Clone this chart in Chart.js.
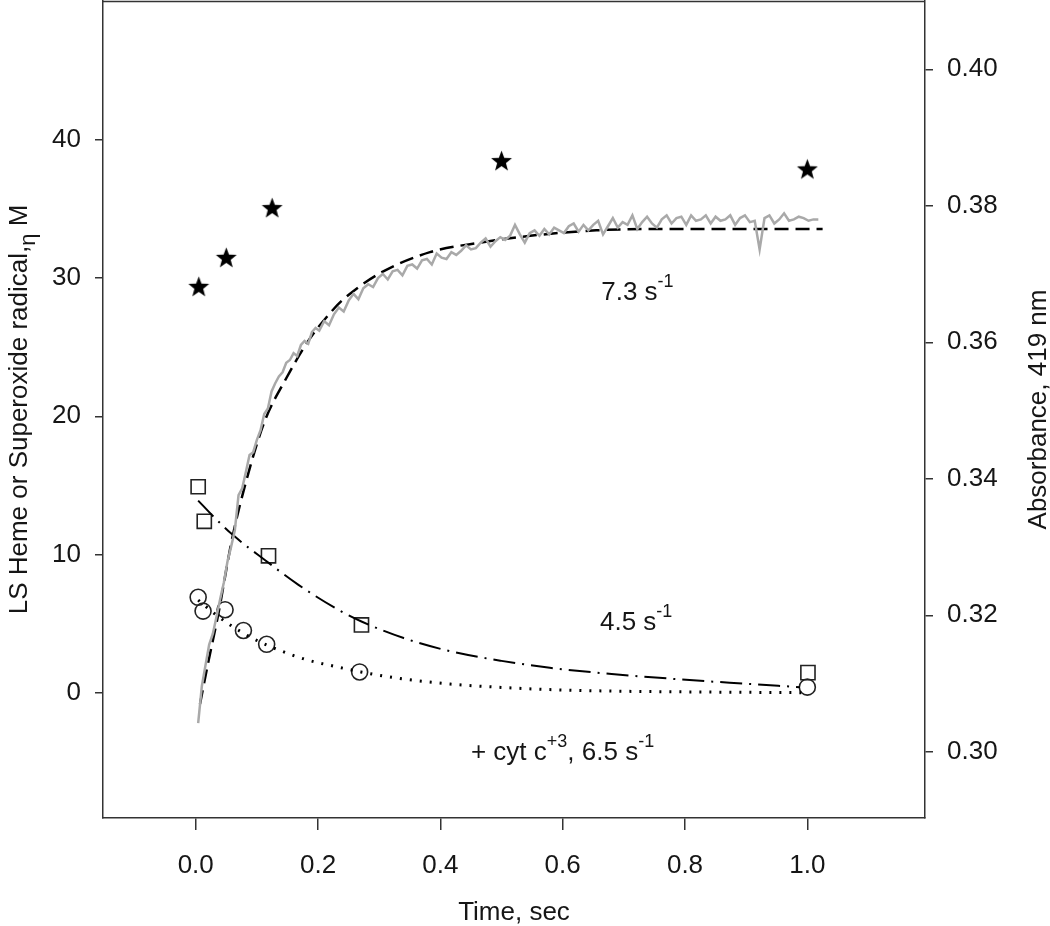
<!DOCTYPE html>
<html>
<head>
<meta charset="utf-8">
<script src="https://cdn.jsdelivr.net/npm/chart.js@4"></script>
<style>
  body { margin: 0; background: #fff; }
  #wrap { width: 1050px; height: 926px; }
</style>
</head>
<body>
<div id="wrap"><canvas id="kineticsChart" width="1050" height="926"></canvas></div>
<script>
// absorbance trace at 419 nm (gray, right axis)
const traceTime = [0.004, 0.010, 0.016, 0.022, 0.028, 0.034, 0.040, 0.046, 0.052, 0.058, 0.064, 0.070, 0.076, 0.082, 0.088, 0.094, 0.100, 0.106, 0.112, 0.118, 0.124, 0.130, 0.136, 0.142, 0.148, 0.154, 0.160, 0.166, 0.172, 0.178, 0.184, 0.190, 0.196, 0.202,
  0.210, 0.218, 0.226, 0.234, 0.242, 0.250, 0.258, 0.266, 0.274, 0.282, 0.290, 0.298, 0.306, 0.314, 0.322, 0.330, 0.338, 0.346, 0.354, 0.362, 0.370, 0.378, 0.386, 0.394, 0.402, 0.410, 0.418, 0.426, 0.434, 0.442, 0.450, 0.458, 0.466, 0.474, 0.482, 0.490, 0.498,
  0.506, 0.514, 0.522, 0.530, 0.538, 0.546, 0.554, 0.562, 0.570, 0.578, 0.586, 0.594, 0.602, 0.610, 0.618, 0.626, 0.634, 0.642, 0.650, 0.658, 0.666, 0.674, 0.682, 0.690, 0.698, 0.706, 0.714, 0.722, 0.730, 0.738, 0.746, 0.754, 0.762, 0.770, 0.778, 0.786, 0.794,
  0.802, 0.810, 0.818, 0.826, 0.834, 0.842, 0.850, 0.858, 0.866, 0.874, 0.882, 0.890, 0.898, 0.906, 0.914, 0.922, 0.930, 0.938, 0.946, 0.954, 0.962, 0.970, 0.978, 0.986, 0.994, 1.002, 1.010, 1.018];
const traceAbs = [0.3042, 0.3096, 0.3127, 0.3157, 0.3173, 0.3198, 0.3224, 0.3248, 0.3279, 0.3301, 0.3325, 0.3376, 0.3386, 0.3410, 0.3435, 0.3439, 0.3457, 0.3471, 0.3495, 0.3503, 0.3528, 0.3540, 0.3550, 0.3556, 0.3570, 0.3574, 0.3584, 0.3580, 0.3596, 0.3602, 0.3598, 0.3615, 0.3621, 0.3617,
  0.3631, 0.3625, 0.3641, 0.3651, 0.3645, 0.3661, 0.3671, 0.3663, 0.3679, 0.3685, 0.3681, 0.3694, 0.3700, 0.3692, 0.3704, 0.3706, 0.3698, 0.3712, 0.3714, 0.3708, 0.3720, 0.3722, 0.3714, 0.3730, 0.3724, 0.3722, 0.3732, 0.3728, 0.3734, 0.3742, 0.3736, 0.3738, 0.3746, 0.3752, 0.3740, 0.3748, 0.3754,
  0.3750, 0.3756, 0.3772, 0.3758, 0.3746, 0.3760, 0.3764, 0.3756, 0.3766, 0.3758, 0.3768, 0.3764, 0.3760, 0.3770, 0.3774, 0.3762, 0.3772, 0.3764, 0.3772, 0.3778, 0.3758, 0.3770, 0.3782, 0.3768, 0.3776, 0.3772, 0.3786, 0.3766, 0.3776, 0.3784, 0.3774, 0.3768, 0.3780, 0.3786, 0.3774, 0.3782, 0.3784,
  0.3772, 0.3786, 0.3778, 0.3780, 0.3786, 0.3774, 0.3784, 0.3778, 0.3780, 0.3786, 0.3772, 0.3782, 0.3786, 0.3776, 0.3778, 0.3736, 0.3782, 0.3786, 0.3774, 0.3780, 0.3789, 0.3778, 0.3780, 0.3784, 0.3782, 0.3778, 0.3780, 0.3780];

// 7.3 s-1 fit of the absorbance (dashed, right axis)
const fastFitTime = [0.007, 0.020, 0.037, 0.059, 0.086, 0.113, 0.146, 0.184, 0.219, 0.239, 0.301, 0.383, 0.465, 0.547, 0.655, 0.764, 0.900, 1.025];
const fastFitAbs = [0.3070, 0.3129, 0.3202, 0.3310, 0.3408, 0.3485, 0.3544, 0.3602, 0.3642, 0.3661, 0.3701, 0.3732, 0.3746, 0.3756, 0.3764, 0.3766, 0.3766, 0.3766];

// 4.5 s-1 fit of LS heme (dash-dot, left axis)
const hemeFitTime = [0.004, 0.030, 0.061, 0.113, 0.168, 0.233, 0.271, 0.340, 0.416, 0.500, 0.579, 0.680, 0.780, 0.880, 0.988];
const hemeFitVal = [13.9, 12.7, 11.4, 9.6, 7.8, 6.0, 5.15, 3.95, 3.0, 2.3, 1.8, 1.35, 1.0, 0.7, 0.4];

// + cyt c+3, 6.5 s-1 fit (dotted, left axis)
const cytFitTime = [0.004, 0.030, 0.053, 0.090, 0.135, 0.180, 0.233, 0.270, 0.330, 0.416, 0.500, 0.579, 0.700, 0.850, 0.990];
const cytFitVal = [6.7, 5.75, 5.0, 4.0, 3.1, 2.4, 1.85, 1.5, 1.05, 0.62, 0.38, 0.22, 0.1, 0.04, 0.0];

// measured points (left axis)
const starTime = [0.005, 0.050, 0.125, 0.500, 1.000];
const starVal = [29.4, 31.5, 35.1, 38.5, 37.9];
const squareTime = [0.004, 0.014, 0.119, 0.271, 1.001];
const squareVal = [14.9, 12.4, 9.9, 4.9, 1.45];
const circleTime = [0.004, 0.012, 0.048, 0.078, 0.116, 0.268, 1.000];
const circleVal = [6.9, 5.9, 6.0, 4.5, 3.5, 1.5, 0.4];

const xTicks = [0, 0.2, 0.4, 0.6, 0.8, 1.0];
const leftTicks = [0, 10, 20, 30, 40];
const rightTicks = [0.30, 0.32, 0.34, 0.36, 0.38, 0.40];

const pts = (xs, ys) => xs.map((x, i) => ({ x, y: ys[i] }));

const FONT = "'Liberation Sans', Arial, sans-serif";
const INK = "#161616";

// filled five-point star marker
function makeStar(size) {
  const c = document.createElement("canvas");
  c.width = size;
  c.height = size;
  const g = c.getContext("2d");
  const cx = size / 2, cy = size / 2 + 1, ro = size / 2 - 0.5, ri = ro * 0.42;
  g.beginPath();
  for (let k = 0; k < 10; k++) {
    const r = k % 2 === 0 ? ro : ri;
    const a = -Math.PI / 2 + k * Math.PI / 5;
    g.lineTo(cx + r * Math.cos(a), cy + r * Math.sin(a));
  }
  g.closePath();
  g.fillStyle = "#000";
  g.fill();
  return c;
}
const starImg = makeStar(23);

// frame top, axis titles and rate labels
const decorPlugin = {
  id: "decor",
  afterDraw(chart) {
    const { ctx, chartArea: a, scales } = chart;
    const xs = scales.x, yl = scales.y;
    ctx.save();
    ctx.strokeStyle = "#333";
    ctx.lineWidth = 1.5;
    ctx.beginPath();
    ctx.moveTo(a.left, a.top + 0.5);
    ctx.lineTo(a.right, a.top + 0.5);
    ctx.stroke();

    ctx.fillStyle = INK;
    ctx.textBaseline = "alphabetic";

    // x title
    ctx.font = "26px " + FONT;
    ctx.textAlign = "center";
    ctx.fillText("Time, sec", (a.left + a.right) / 2, 920);

    // left title, rotated
    ctx.save();
    ctx.translate(27, (a.top + a.bottom) / 2);
    ctx.rotate(-Math.PI / 2);
    ctx.textAlign = "left";
    const main = "LS Heme or Superoxide radical,";
    const wMain = ctx.measureText(main).width;
    ctx.font = "22px " + FONT;
    const wSub = ctx.measureText("\u03B7").width;
    ctx.font = "26px " + FONT;
    const wM = ctx.measureText(" M").width;
    const x0 = -(wMain + wSub + wM) / 2;
    ctx.fillText(main, x0, 0);
    ctx.font = "22px " + FONT;
    ctx.fillText("\u03B7", x0 + wMain, 8);
    ctx.font = "26px " + FONT;
    ctx.fillText(" M", x0 + wMain + wSub, 0);
    ctx.restore();

    // right title, rotated
    ctx.save();
    ctx.translate(1046, (a.top + a.bottom) / 2);
    ctx.rotate(-Math.PI / 2);
    ctx.textAlign = "center";
    ctx.font = "26px " + FONT;
    ctx.fillText("Absorbance, 419 nm", 0, 0);
    ctx.restore();

    // rate labels with superscripts
    const label = (parts, tx, ly) => {
      let px = xs.getPixelForValue(tx);
      const py = yl.getPixelForValue(ly);
      ctx.textAlign = "left";
      parts.forEach(([txt, sup]) => {
        ctx.font = (sup ? "18px " : "26px ") + FONT;
        ctx.fillText(txt, px, sup ? py - 13 : py);
        px += ctx.measureText(txt).width;
      });
    };
    label([["7.3 s", false], ["-1", true]], 0.663, 28.4);
    label([["4.5 s", false], ["-1", true]], 0.661, 4.55);
    label([["+ cyt c", false], ["+3", true], [", 6.5 s", false], ["-1", true]], 0.45, -4.9);
    ctx.restore();
  }
};

const axisFont = { family: FONT, size: 26 };

// drop the automatic label overhang padding so the plot box fills its slot
const noPad = s => {
  s.paddingLeft = 0;
  s.paddingRight = 0;
  s.paddingTop = 0;
  s.paddingBottom = 0;
};

new Chart(document.getElementById("kineticsChart"), {
  type: "scatter",
  data: {
    datasets: [
      {
        label: "Absorbance trace",
        data: pts(traceTime, traceAbs),
        yAxisID: "y2",
        showLine: true,
        borderColor: "#a9a9a9",
        borderWidth: 2.5,
        pointRadius: 0,
        tension: 0
      },
      {
        label: "7.3 s-1 fit",
        data: pts(fastFitTime, fastFitAbs),
        yAxisID: "y2",
        showLine: true,
        borderColor: "#000",
        borderWidth: 2.5,
        borderDash: [14, 7],
        pointRadius: 0,
        cubicInterpolationMode: "monotone"
      },
      {
        label: "4.5 s-1 fit",
        data: pts(hemeFitTime, hemeFitVal),
        yAxisID: "y",
        showLine: true,
        borderColor: "#000",
        borderWidth: 2,
        borderDash: [22, 7, 2, 7],
        pointRadius: 0,
        cubicInterpolationMode: "monotone"
      },
      {
        label: "cyt c fit",
        data: pts(cytFitTime, cytFitVal),
        yAxisID: "y",
        showLine: true,
        borderColor: "#000",
        borderWidth: 3,
        borderDash: [2, 8],
        pointRadius: 0,
        cubicInterpolationMode: "monotone"
      },
      {
        label: "Superoxide",
        data: pts(starTime, starVal),
        yAxisID: "y",
        pointStyle: starImg,
        pointRadius: 12
      },
      {
        label: "LS heme",
        data: pts(squareTime, squareVal),
        yAxisID: "y",
        pointStyle: "rect",
        pointRadius: 10,
        borderColor: "#222",
        borderWidth: 1.6,
        backgroundColor: "rgba(0,0,0,0)"
      },
      {
        label: "LS heme + cyt c",
        data: pts(circleTime, circleVal),
        yAxisID: "y",
        pointStyle: "circle",
        pointRadius: 8,
        borderColor: "#222",
        borderWidth: 1.6,
        backgroundColor: "rgba(0,0,0,0)"
      }
    ]
  },
  options: {
    responsive: false,
    animation: false,
    layout: { autoPadding: false, padding: { top: 1, left: 0, right: 0, bottom: 0 } },
    plugins: {
      legend: { display: false },
      tooltip: { enabled: false }
    },
    scales: {
      x: {
        type: "linear",
        min: -0.1516,
        max: 1.1924,
        afterFit: s => { s.height = 108; noPad(s); },
        afterBuildTicks: s => { s.ticks = xTicks.map(v => ({ value: v })); },
        border: { display: true, color: "#333", width: 1.5 },
        grid: { drawOnChartArea: false, drawTicks: true, tickLength: 12, tickColor: "#333", lineWidth: 1.5 },
        ticks: { color: INK, font: axisFont, padding: 20, maxRotation: 0, callback: v => v.toFixed(1) }
      },
      y: {
        position: "left",
        min: -9.07,
        max: 50.05,
        afterFit: s => { s.width = 103; noPad(s); },
        afterBuildTicks: s => { s.ticks = leftTicks.map(v => ({ value: v })); },
        border: { display: true, color: "#333", width: 1.5 },
        grid: { drawOnChartArea: false, drawTicks: true, tickLength: 8, tickColor: "#333", lineWidth: 1.5 },
        ticks: { color: INK, font: axisFont, padding: 14, callback: v => String(v) }
      },
      y2: {
        position: "right",
        min: 0.2903,
        max: 0.41,
        afterFit: s => { s.width = 125; noPad(s); },
        afterBuildTicks: s => { s.ticks = rightTicks.map(v => ({ value: v })); },
        border: { display: true, color: "#333", width: 1.5 },
        grid: { drawOnChartArea: false, drawTicks: true, tickLength: 8, tickColor: "#333", lineWidth: 1.5 },
        ticks: { color: INK, font: axisFont, padding: 14, callback: v => v.toFixed(2) }
      }
    }
  },
  plugins: [decorPlugin]
});
</script>
</body>
</html>
